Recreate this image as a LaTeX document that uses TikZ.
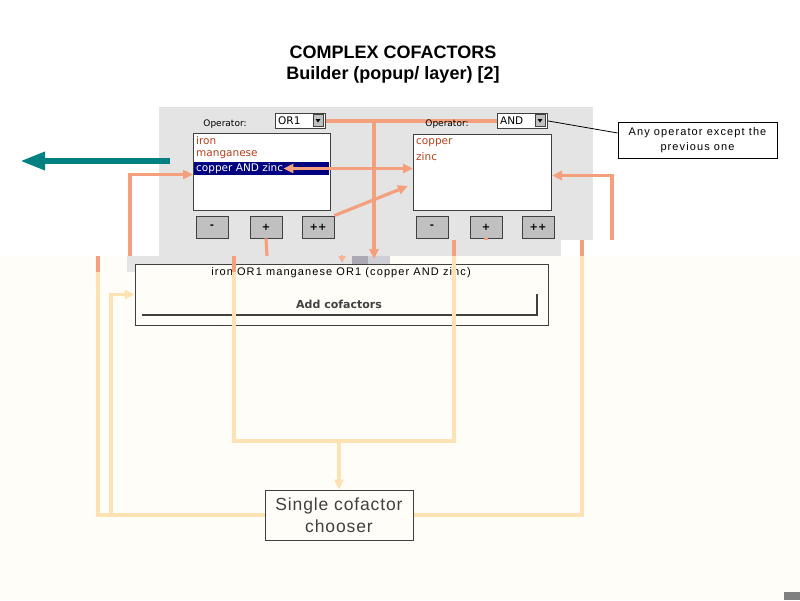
\documentclass[tikz,border=0pt]{standalone}
\usepackage{fontspec}
\setmainfont{Liberation Sans}
\newfontfamily\uifont{DejaVu Sans}
\newfontfamily\widefont[LetterSpace=10]{Liberation Sans}
\newfontfamily\boxfont[LetterSpace=5]{Liberation Sans}
\usepackage{xcolor}
\usepackage{tikz}
\usetikzlibrary{arrows.meta}

\definecolor{panelgray}{HTML}{E4E4E4}
\definecolor{creambg}{HTML}{FFFDF7}
\definecolor{salmon}{HTML}{F4A07C}
\definecolor{paleline}{HTML}{FFE2B4}
\definecolor{itemred}{HTML}{B4401C}
\definecolor{selblue}{HTML}{000080}
\definecolor{btngray}{HTML}{C0C0C0}
\definecolor{darkline}{HTML}{404040}
\definecolor{tealarrow}{HTML}{008080}
\definecolor{blockgray}{HTML}{ACA8B4}
\definecolor{cornergray}{HTML}{808080}

\tikzset{
    oplabel/.style={inner sep=0pt, font=\uifont\fontsize{9}{11}\selectfont},
    dropbox/.style={draw=darkline, fill=white, line width=0.8pt, minimum width=50, minimum height=15, inner sep=0pt, anchor=north west},
    droptext/.style={anchor=west, inner sep=0pt, font=\uifont\fontsize{10.5}{12}\selectfont},
    dropbtn/.style={draw=darkline, fill=btngray, line width=0.6pt, minimum width=10, minimum height=12, inner sep=0pt},
    listbox/.style={draw=darkline, fill=white, line width=1pt, inner sep=0pt, anchor=north west},
    item/.style={anchor=west, inner sep=0pt, text=itemred, font=\uifont\fontsize{10.5}{12}\selectfont},
    btn/.style={draw=darkline, fill=btngray, line width=0.8pt, minimum width=32, minimum height=22, inner sep=0pt, font=\uifont\bfseries\fontsize{10}{12}\selectfont},
    feed/.style={draw=salmon, line width=3.2pt},
    faded/.style={draw=paleline, line width=3.8pt},
    feedtip/.style={-{Triangle[length=10pt,width=9pt]}},
}

\begin{document}
\begin{tikzpicture}[x=1pt, y=-1pt]
        \useasboundingbox (0,0) rectangle (800,600);
        % page and screenshot backgrounds
        \fill[white] (0,0) rectangle (800,256);
        \fill[creambg] (0,256) rectangle (800,600);
        \fill[panelgray] (159,107) rectangle (593,240);
        \fill[panelgray] (159,240) rectangle (561,256);
        \fill[panelgray] (127,256) rectangle (380,272);
        \fill[blockgray] (352,256) rectangle (368,272);
        \fill[blockgray!55] (368,256) rectangle (390,265);
        \fill[cornergray] (784,592) rectangle (800,600);

        \node (title) [align=center, font=\bfseries\fontsize{18}{21}\selectfont] at (393,64.5)
            {COMPLEX COFACTORS\\Builder (popup/ layer) [2]};

        % first operand list
        \node (leftlist) [listbox, minimum width=137, minimum height=77] at (193,133) {};
        \fill[selblue] (194,162) rectangle (329,175);
        \node (iron) [item] at (196,141) {iron};
        \node (mang) [item] at (196,155) {manganese};
        \node (selitem) [item, text=white] at (196,168.5) {copper AND zinc};
        \node (lminus) [btn] at (212,227) {-};
        \node (lplus) [btn] at (266,227) {+};
        \node (lplusplus) [btn] at (318,227) {++};
        \node (ordrop) [dropbox] at (275,113) {};
        \node (ortext) [droptext] at (278,120.5) {OR1};
        \node (orbtn) [dropbtn] at (318,120.5) {};
        \fill (315.5,119) -- (320.5,119) -- (318,122.5) -- cycle;

        % second operand list
        \node (rightlist) [listbox, minimum width=138, minimum height=76] at (413,134) {};
        \node (copper) [item] at (416,143) {copper};
        \node (zinc) [item] at (416,157) {zinc};
        \node (rminus) [btn] at (432,227) {-};
        \node (rplus) [btn] at (486,227) {+};
        \node (rplusplus) [btn] at (538,227) {++};
        \node (anddrop) [dropbox] at (497,113) {};
        \node (andtext) [droptext] at (500,120.5) {AND};
        \node (andbtn) [dropbtn] at (540,120.5) {};
        \fill (537.5,119) -- (542.5,119) -- (540,122.5) -- cycle;

        % result of the builder
        \node (cofbox) [draw=darkline, fill=creambg, line width=1pt, minimum width=413, minimum height=61, inner sep=0pt] at (341.5,294.5) {};
        \node (formula) [inner sep=0pt, font=\widefont\fontsize{11}{13}\selectfont] at (341,273)
            {iron OR1 manganese OR1 (copper AND zinc)};
        \node (addbtn) [inner sep=0pt, text=darkline, font=\uifont\bfseries\fontsize{11}{13}\selectfont] at (339,304) {Add cofactors};
        \draw[darkline, line width=1.5pt] (142,315) -- (537,315) -- (537,294);

        \node (chooser) [draw=darkline, fill=creambg, line width=1pt, minimum width=148, minimum height=50, align=center, text=darkline,
            font=\boxfont\fontsize{17.5}{22}\selectfont] at (339,515) {Single cofactor\\chooser};

        \node (note) [draw, line width=0.8pt, minimum width=159, minimum height=36, align=center,
            font=\widefont\fontsize{11}{14.5}\selectfont] at (697.5,140) {Any operator except the\\previous one};
        \draw[line width=0.8pt] (anddrop.east) -- ([yshift=7pt]note.west);

        % way back out of the layer
        \coordinate (exitstart) at (170,161);
        \coordinate (exitend) at (20,161);
        \draw[tealarrow, line width=6pt, -{Triangle[length=25pt,width=17pt]}] (exitstart) -- (exitend);

        % salmon feeds inside the layer
        \coordinate (orjoin) at (374,120.5);
        \coordinate (panelout) at (374,259);
        \coordinate (rlistin) at (408,186);
        \coordinate (lfoot) at (130,256);
        \coordinate (rfoot) at (612,240);
        \coordinate (lplusend) at (267,256);
        \coordinate (rplusend) at (486,240);
        \coordinate (hinttop) at (342,255);
        \coordinate (hintend) at (342,263);
        \draw[feed] (ordrop.east) -- (anddrop.west);
        \draw[feed, feedtip] (orjoin) -- (panelout);
        \draw[feed, {Triangle[length=10pt,width=9pt]}-{Triangle[length=10pt,width=9pt]}] (selitem.east) -- (selitem.east -| rightlist.west);
        \draw[feed, feedtip] (lplusplus.north east) -- (rlistin);
        \draw[feed, feedtip] (lfoot) |- ([yshift=-2.5pt]leftlist.west);
        \draw[feed, feedtip] (rfoot) |- ([yshift=-3pt]rightlist.east);
        \draw[feed] (lplus.south) -- (lplusend);
        \draw[feed] (rplus.south) -- (rplusend);
        \draw[salmon!80, line width=2pt, -{Triangle[length=7pt,width=7pt]}] (hinttop) -- (hintend);

        % faded loops below the layer
        \coordinate (topa) at (98,256);
        \coordinate (fadea) at (98,272);
        \coordinate (topb) at (234,256);
        \coordinate (fadeb) at (234,272);
        \coordinate (topc) at (454,240);
        \coordinate (fadec) at (454,256);
        \coordinate (topd) at (582,240);
        \coordinate (fadd) at (582,256);
        \coordinate (joinl) at (111,514);
        \coordinate (loopr) at (454,441);
        \draw[feed] (topa) -- (fadea);
        \draw[feed] (topb) -- (fadeb);
        \draw[feed] (topc) -- (fadec);
        \draw[feed] (topd) -- (fadd);
        \draw[faded] (fadea) |- (chooser.west);
        \draw[faded, feedtip] (joinl) |- (cofbox.west);
        \draw[faded] (fadeb) |- (loopr) -- (fadec);
        \draw[faded, feedtip] (chooser.north |- loopr) -- (chooser.north);
        \draw[faded] (fadd) |- (chooser.east);

        % labels over the operator line
        \node (leftop) [oplabel] at (225,124) {Operator:};
        \node (rightop) [oplabel] at (447,124) {Operator:};
\end{tikzpicture}
\end{document}
